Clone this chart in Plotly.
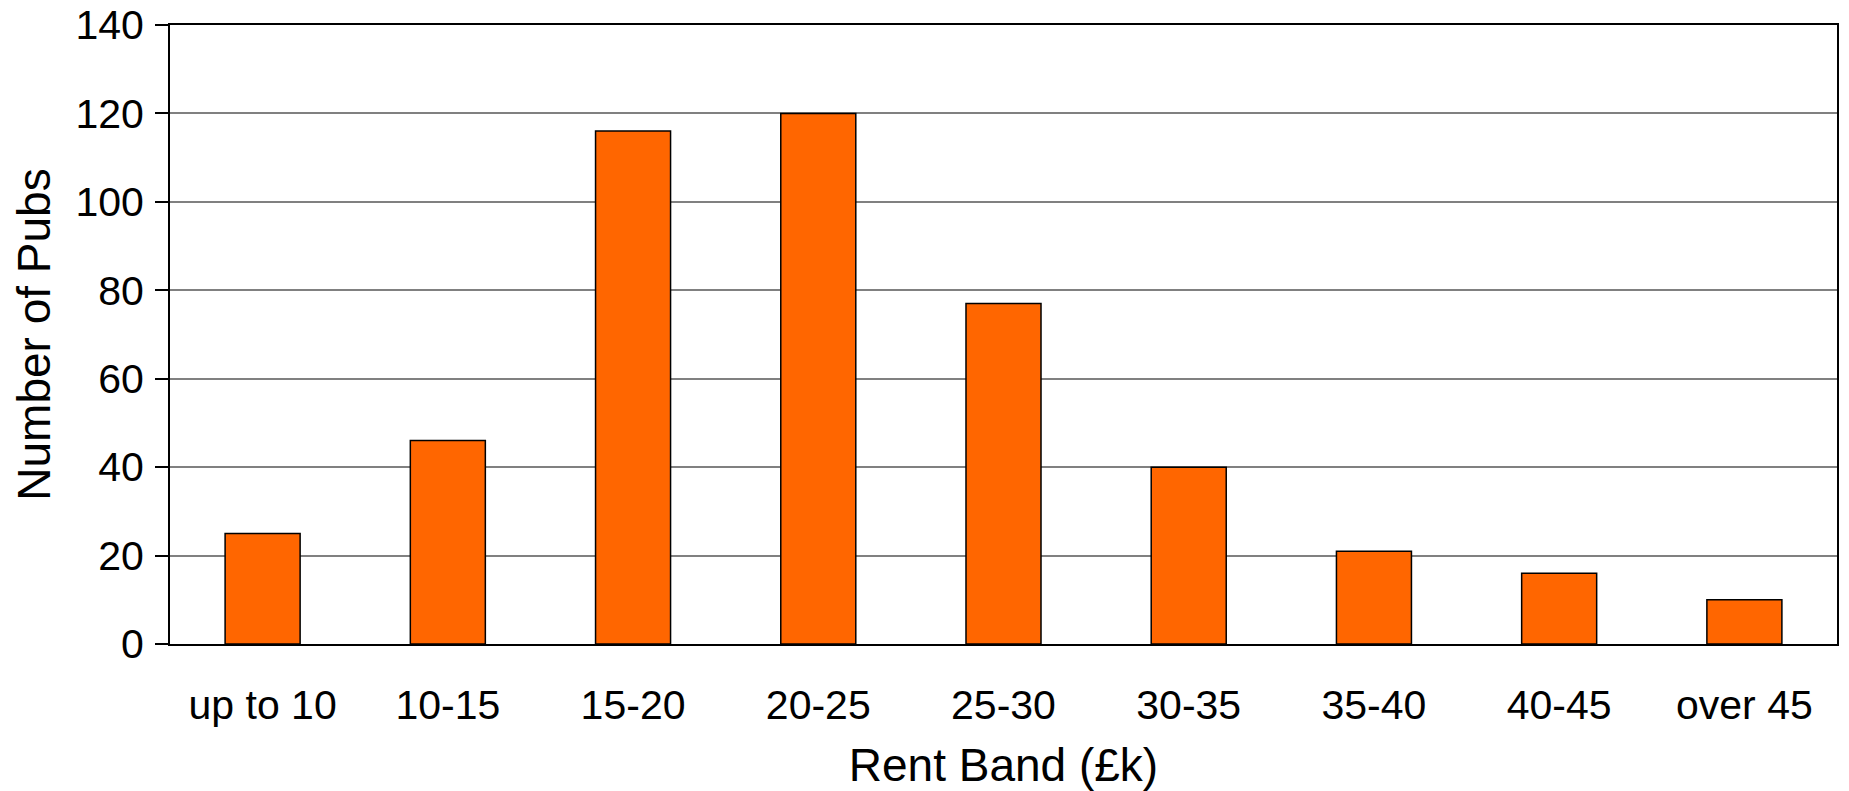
import plotly.graph_objects as go

# Rent bands and pub counts
rent_bands = ["up to 10", "10-15", "15-20", "20-25", "25-30",
              "30-35", "35-40", "40-45", "over 45"]
pub_counts = [25, 46, 116, 120, 77, 40, 21, 16, 10]
y_ticks = [0, 20, 40, 60, 80, 100, 120, 140]

FONT = "Liberation Sans, Arial, sans-serif"

fig = go.Figure(
    go.Bar(
        x=rent_bands,
        y=pub_counts,
        width=0.405,
        marker=dict(color="#FF6600", line=dict(color="black", width=1.5)),
    )
)

fig.update_layout(
    width=1849,
    height=791,
    margin=dict(l=170, r=12, t=25, b=147),
    paper_bgcolor="white",
    plot_bgcolor="white",
    showlegend=False,
    font=dict(family=FONT, color="black", size=41),
)

fig.update_xaxes(
    type="category",
    automargin=False,
    showgrid=False,
    ticks="",
    showline=True,
    linecolor="black",
    linewidth=2,
    mirror=True,
    tickfont=dict(size=41),
    ticklabelstandoff=24,
    title=dict(text="Rent Band (£k)", font=dict(size=46), standoff=26),
)

fig.update_yaxes(
    range=[0, 140],
    automargin=False,
    tickvals=y_ticks,
    showgrid=True,
    gridcolor="#808080",
    gridwidth=1.5,
    zeroline=False,
    ticks="outside",
    ticklen=13,
    tickwidth=2,
    tickcolor="black",
    showline=True,
    linecolor="black",
    linewidth=2,
    mirror=True,
    tickfont=dict(size=41),
    ticklabelstandoff=3,
    title=dict(text="Number of Pubs", font=dict(size=46), standoff=10),
)

fig.write_html("out.html")
